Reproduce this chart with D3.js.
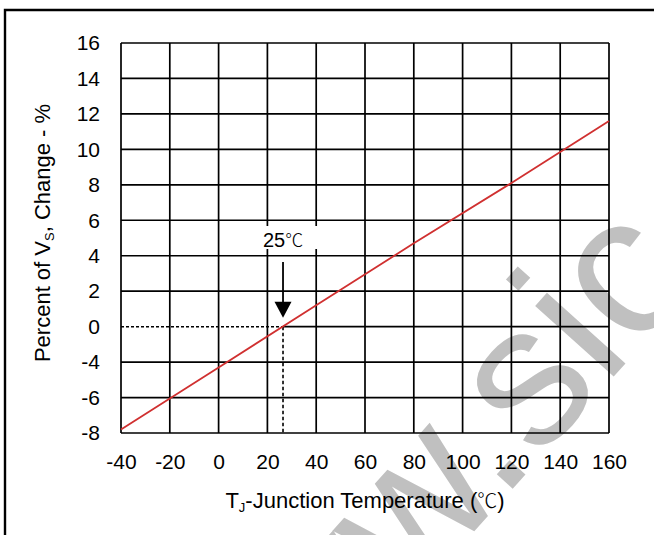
<!DOCTYPE html>
<html lang="en">
<meta charset="UTF-8">
<title>Percent of VS Change vs Junction Temperature</title>
<style>
  body { margin: 0; background: #fff; }
  svg { display: block; font-family: Arial, "Liberation Sans", sans-serif; }
  .tick text { font-size: 21px; fill: #000; }
  .grid line { stroke: #000; stroke-width: 1.7; }
</style>
<script src="https://d3js.org/d3.v7.min.js"></script>
<body>
<svg id="chart" width="654" height="535"></svg>
<script>
// data
var tempC = [-40, 0, 40, 80, 120, 160];
var vsChange = [-5.8, -2.3, 1.2, 4.7, 8.1, 11.6];

var xTicks = [-40, -20, 0, 20, 40, 60, 80, 100, 120, 140, 160];
var yTicks = [-6, -4, -2, 0, 2, 4, 6, 8, 10, 12, 14, 16];
// labels as printed on the original (the -2 row is printed "-4", bottom "-8")
var yTickLabels = ["-8", "-6", "-4", "0", "2", "4", "6", "8", "10", "12", "14", "16"];

var refTemp = 26.4;       // where the arrow / dashed guide sits
var refLabel = "25\u2103";

var svg = d3.select("#chart");
var pLeft = 121, pRight = 609, pTop = 43, pBottom = 433;

var x = d3.scaleLinear().domain([-40, 160]).range([pLeft, pRight]);
var y = d3.scaleLinear().domain([-6, 16]).range([pBottom, pTop]);

// outer frame (runs off the right and bottom edges)
svg.append("path")
    .attr("d", "M5,545V10H664")
    .attr("fill", "none")
    .attr("stroke", "#000")
    .attr("stroke-width", 2.4);

// watermark underneath everything
svg.append("text")
    .attr("transform", "translate(218,816) rotate(-48)")
    .attr("font-size", 200)
    .attr("fill", "#c0c0c0")
    .text("www.sic");

// grid
var grid = svg.append("g").attr("class", "grid");
grid.selectAll("line.v")
  .data(xTicks)
  .enter().append("line")
    .attr("class", "v")
    .attr("x1", d => x(d)).attr("x2", d => x(d))
    .attr("y1", pTop).attr("y2", pBottom);
grid.selectAll("line.h")
  .data(yTicks)
  .enter().append("line")
    .attr("class", "h")
    .attr("x1", d => d === 0 ? x(refTemp) : pLeft)
    .attr("x2", pRight)
    .attr("y1", d => y(d)).attr("y2", d => y(d));

// dashed guides to the 25C point
svg.append("line")
    .attr("x1", pLeft).attr("x2", x(refTemp))
    .attr("y1", y(0)).attr("y2", y(0))
    .attr("stroke", "#000").attr("stroke-width", 1.5)
    .attr("stroke-dasharray", "3,2");
svg.append("line")
    .attr("x1", x(refTemp)).attr("x2", x(refTemp))
    .attr("y1", y(0)).attr("y2", pBottom)
    .attr("stroke", "#000").attr("stroke-width", 1.6)
    .attr("stroke-dasharray", "3.5,2.5");

// axes (labels only)
var xAxis = svg.append("g")
    .attr("transform", "translate(0," + pBottom + ")")
    .call(d3.axisBottom(x).tickValues(xTicks).tickSize(0).tickPadding(21)
      .tickFormat(d => String(d)));
xAxis.select(".domain").remove();

var yAxis = svg.append("g")
    .attr("transform", "translate(" + pLeft + ",0)")
    .call(d3.axisLeft(y).tickValues(yTicks).tickSize(0).tickPadding(21)
      .tickFormat((d, i) => yTickLabels[i]));
yAxis.select(".domain").remove();
svg.selectAll(".tick text").attr("font-family", "Arial, 'Liberation Sans', sans-serif");

// the red line
var line = d3.line()
    .x((d, i) => x(tempC[i]))
    .y(d => y(d));
svg.append("path")
    .datum(vsChange)
    .attr("d", line)
    .attr("fill", "none")
    .attr("stroke", "#d03030")
    .attr("stroke-width", 1.8);

// 25C annotation
var ax = x(refTemp), tipY = y(0) - 9;
svg.append("rect")
    .attr("x", ax - 27).attr("y", 226)
    .attr("width", 64).attr("height", 23)
    .attr("fill", "#fff");
var lab = svg.append("text")
    .attr("x", ax).attr("y", 247)
    .attr("text-anchor", "middle")
    .attr("font-size", 20);
lab.append("tspan").text(refLabel.slice(0, 2));
lab.append("tspan")
    .attr("font-family", "'Noto Sans CJK SC', 'DejaVu Sans', sans-serif")
    .attr("font-weight", 300)
    .attr("font-size", 18)
    .text(refLabel.slice(2));
svg.append("line")
    .attr("x1", ax).attr("x2", ax)
    .attr("y1", 262).attr("y2", tipY - 12)
    .attr("stroke", "#000").attr("stroke-width", 1.8);
svg.append("path")
    .attr("d", "M" + (ax - 8.5) + "," + (tipY - 16) + "L" + (ax + 8.5) + "," + (tipY - 16) + "L" + ax + "," + tipY + "Z")
    .attr("fill", "#000");

// axis titles
var xt = svg.append("text")
    .attr("x", (pLeft + pRight) / 2).attr("y", 508)
    .attr("text-anchor", "middle")
    .attr("font-size", 22);
xt.append("tspan").text("T");
xt.append("tspan").attr("font-size", 13).attr("dy", 4).text("J");
xt.append("tspan").attr("dy", -4).text("-Junction Temperature (");
xt.append("tspan")
    .attr("font-family", "'Noto Sans CJK SC', 'DejaVu Sans', sans-serif")
    .attr("font-weight", 300)
    .attr("font-size", 20)
    .text("\u2103");
xt.append("tspan").text(")");

var yt = svg.append("text")
    .attr("transform", "translate(50,233) rotate(-90)")
    .attr("text-anchor", "middle")
    .attr("font-size", 22);
yt.append("tspan").text("Percent of V");
yt.append("tspan").attr("font-size", 13).attr("dy", 4).text("S");
yt.append("tspan").attr("dy", -4).text(", Change - %");
</script>
</body>
</html>
